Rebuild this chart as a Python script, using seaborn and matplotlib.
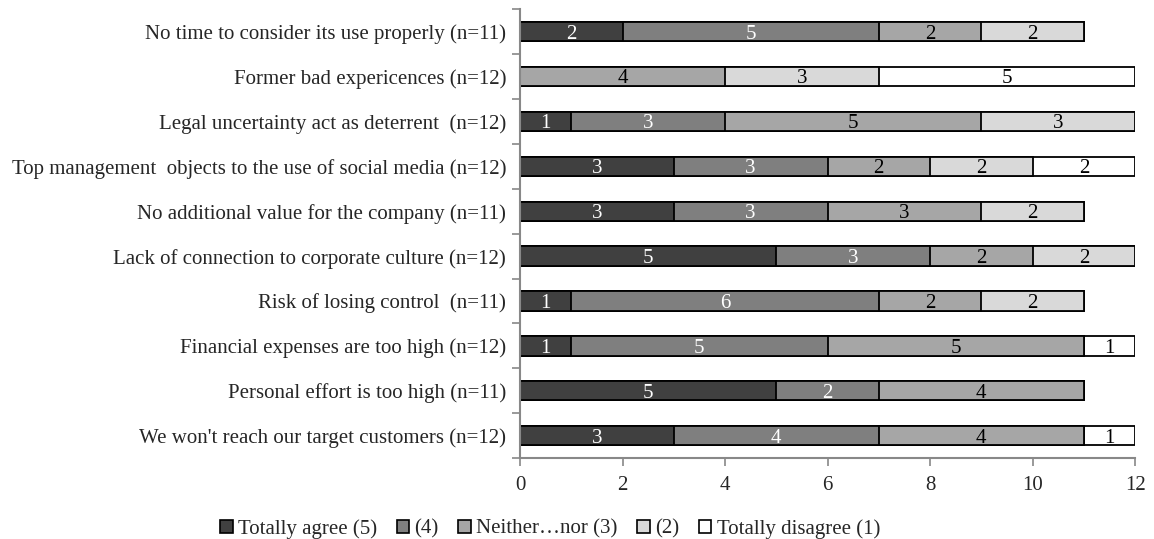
import numpy as np
import pandas as pd
import matplotlib
matplotlib.use("Agg")
import matplotlib.pyplot as plt
from matplotlib.patches import Patch
from matplotlib.ticker import FixedLocator
import seaborn as sns

reasons = [
    "No time to consider its use properly (n=11)",
    "Former bad expericences (n=12)",
    "Legal uncertainty act as deterrent  (n=12)",
    "Top management  objects to the use of social media (n=12)",
    "No additional value for the company (n=11)",
    "Lack of connection to corporate culture (n=12)",
    "Risk of losing control  (n=11)",
    "Financial expenses are too high (n=12)",
    "Personal effort is too high (n=11)",
    "We won't reach our target customers (n=12)",
]
levels = ["Totally agree (5)", "(4)", "Neither\u2026nor (3)", "(2)", "Totally disagree (1)"]

totally_agree = [2, 0, 1, 3, 3, 5, 1, 1, 5, 3]
agree = [5, 0, 3, 3, 3, 3, 6, 5, 2, 4]
neutral = [2, 4, 5, 2, 3, 2, 2, 5, 4, 4]
disagree = [2, 3, 3, 2, 2, 2, 2, 0, 0, 0]
totally_disagree = [0, 5, 0, 2, 0, 0, 0, 1, 0, 1]

colors = ["#404040", "#7f7f7f", "#a6a6a6", "#d9d9d9", "#ffffff"]
text_colors = ["white", "white", "black", "black", "black"]

counts = np.array([totally_agree, agree, neutral, disagree, totally_disagree])
cum = counts.cumsum(axis=0)

FS = 15

sns.set_theme(style="white")
plt.rcParams["font.family"] = ["Liberation Serif", "DejaVu Serif"]

fig = plt.figure(figsize=(11.54, 5.39), dpi=100)
ax = fig.add_axes([0.4506, 0.150, 0.533, 0.833])

df = pd.DataFrame({"reason": reasons})
# Draw cumulative totals from the outermost segment inward so each one stacks visually
for k in range(len(levels) - 1, -1, -1):
    df["total"] = cum[k]
    sns.barplot(data=df, y="reason", x="total", order=reasons, orient="h",
                color=colors[k], saturation=1, width=0.43,
                edgecolor="black", linewidth=1.3, ax=ax, errorbar=None)

for k in range(len(levels)):
    for i in range(len(reasons)):
        v = counts[k, i]
        if v > 0:
            ax.annotate(str(v), xy=(cum[k, i] - v / 2, i), xytext=(0, -5),
                        textcoords="offset points", ha="center", va="baseline",
                        color=text_colors[k], fontsize=FS)

ax.set_xlim(0, 12)
ax.set_ylim(len(reasons) - 0.5, -0.5)
ax.set_xticks(range(0, 13, 2))
ax.set_xlabel("")
ax.set_ylabel("")

ax.yaxis.set_minor_locator(FixedLocator(np.arange(-0.5, len(reasons), 1.0)))
ax.tick_params(axis="y", which="major", length=0, labelsize=FS, pad=10)
ax.tick_params(axis="y", which="minor", length=6, width=1.2, color="#888888", left=True)
ax.tick_params(axis="x", which="major", length=6, width=1.2, color="#888888",
               bottom=True, labelsize=FS, pad=7)

for s in ["top", "right"]:
    ax.spines[s].set_visible(False)
for s in ["left", "bottom"]:
    ax.spines[s].set_color("#888888")
    ax.spines[s].set_linewidth(1.5)

handles = [Patch(facecolor=c, edgecolor="black", linewidth=1.2) for c in colors]
fig.legend(handles, levels, loc="center", bbox_to_anchor=(550 / 1154, 1 - 529 / 539),
           ncol=5, frameon=False, fontsize=FS, handlelength=0.6, handleheight=0.6,
           handletextpad=0.25, columnspacing=0.95)

fig.savefig("out.png", dpi=100)
